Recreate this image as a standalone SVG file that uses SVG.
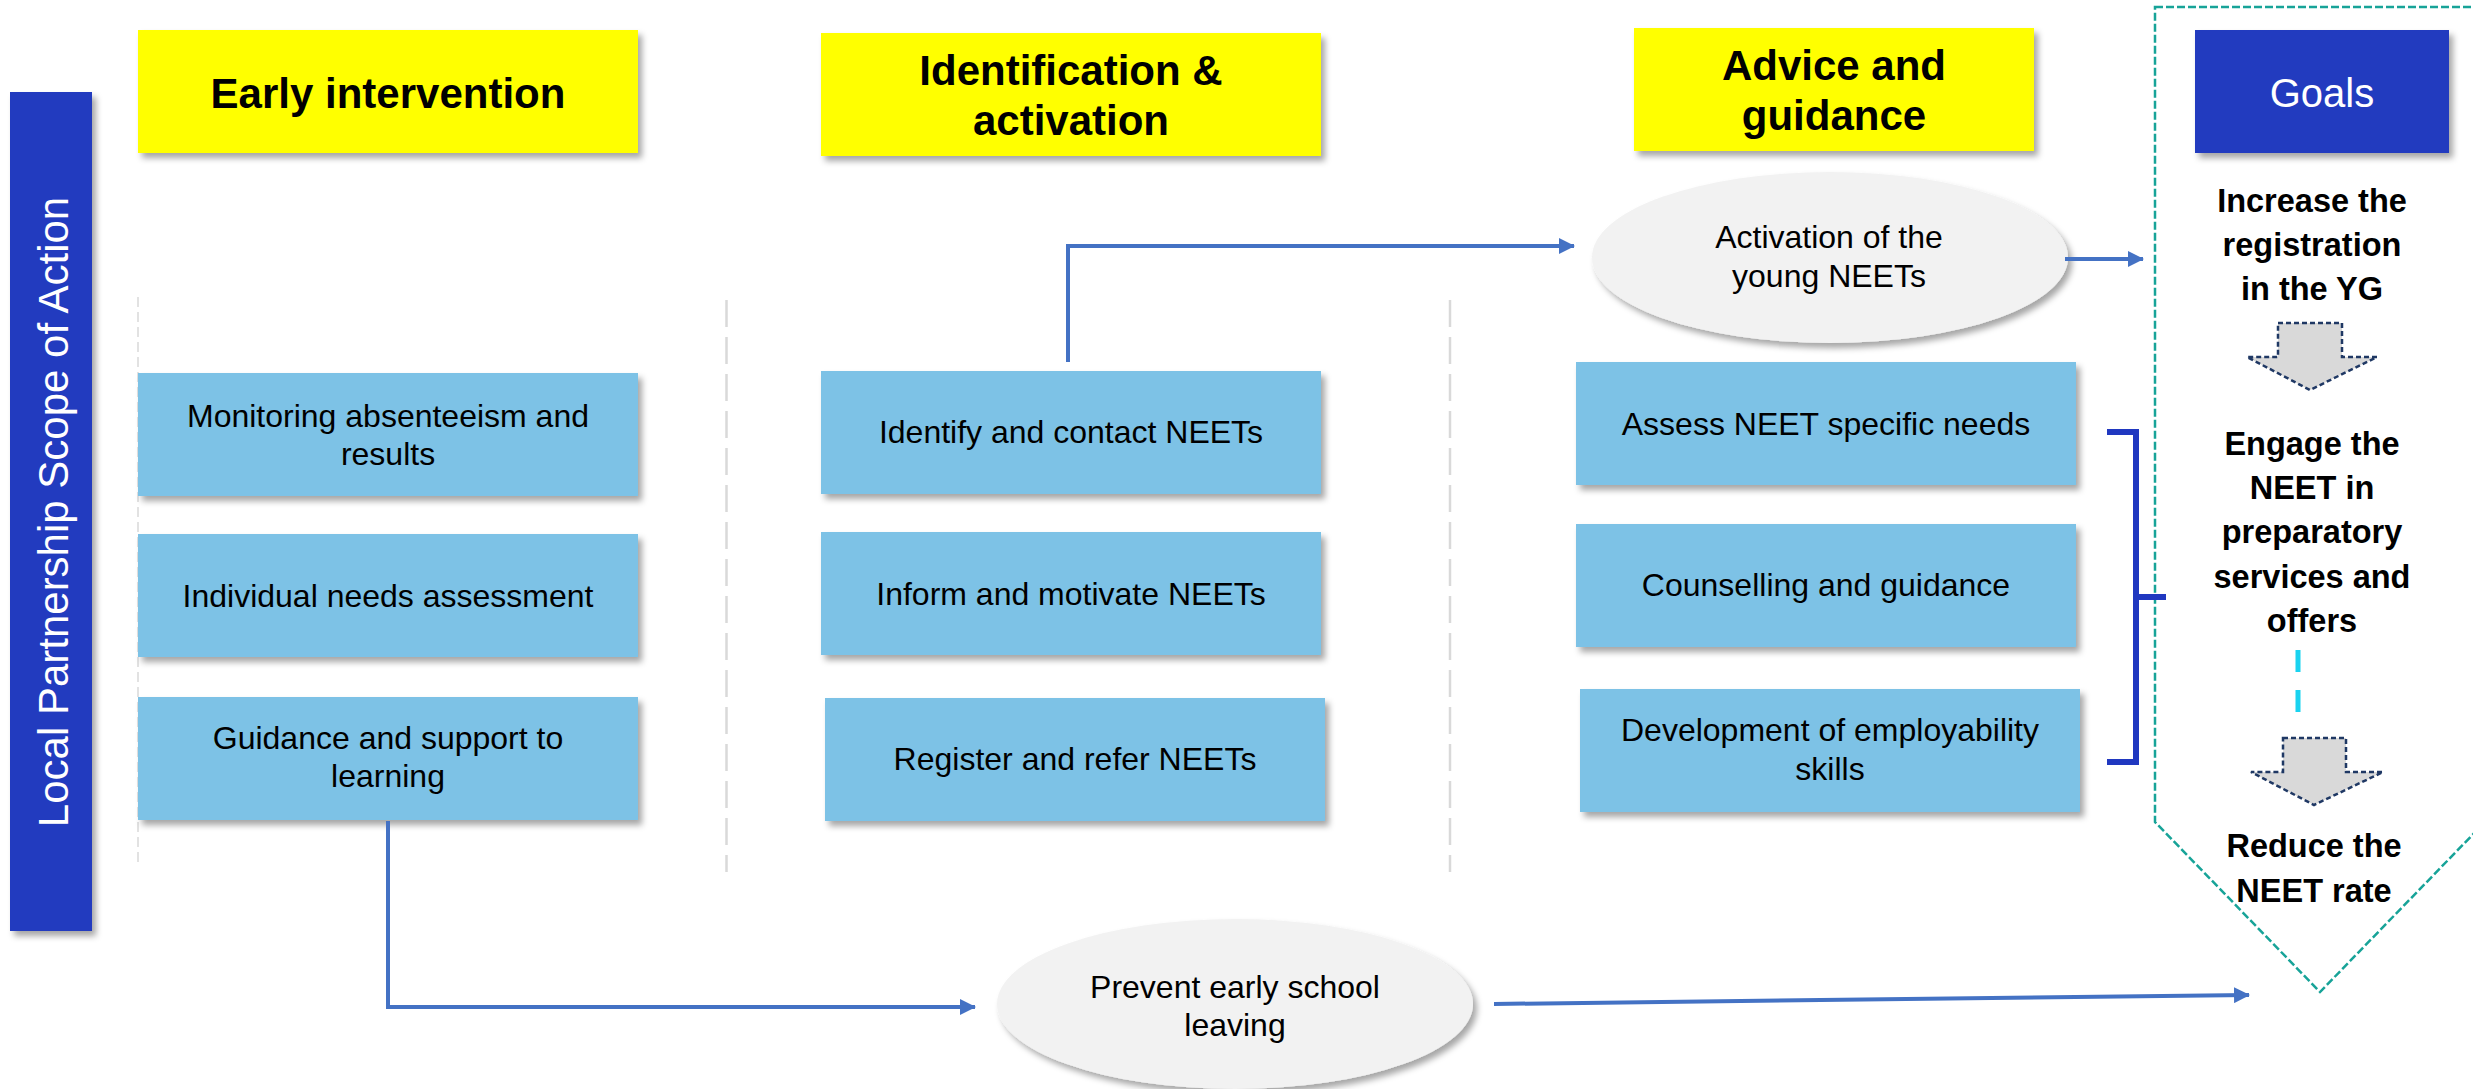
<svg xmlns="http://www.w3.org/2000/svg" width="2473" height="1089" viewBox="0 0 2473 1089">
<style>
  .hdr { fill: #FFFF00; filter: url(#sh); }
  .hdrt { font-family: "Liberation Sans", Arial, sans-serif; font-weight: bold; font-size: 42px; fill: #000; text-anchor: middle; }
  .box { fill: #7DC2E6; filter: url(#sh); }
  .boxt { font-family: "Liberation Sans", Arial, sans-serif; font-size: 32px; fill: #000; text-anchor: middle; }
  .ell { fill: #F2F2F2; filter: url(#sh); }
  .goal { font-family: "Liberation Sans", Arial, sans-serif; font-weight: bold; font-size: 32.5px; fill: #000; text-anchor: middle; }
  .conn { fill: none; stroke: #4472C4; stroke-width: 4; }
  .sep { fill: none; stroke: #D9D9D9; stroke-width: 2.5; stroke-dasharray: 27 10; }
  .darrow { fill: #D9D9D9; stroke: #1F3864; stroke-width: 2.5; stroke-dasharray: 5 3; }
</style>
<defs>
  <filter id="sh" x="-10%" y="-10%" width="130%" height="140%">
    <feDropShadow dx="4" dy="5" stdDeviation="3" flood-color="#000" flood-opacity="0.35"/>
  </filter>
  <marker id="arr" markerUnits="userSpaceOnUse" markerWidth="16" markerHeight="16" refX="15" refY="8" orient="auto">
    <path d="M0,0 L16,8 L0,16 z" fill="#4472C4"/>
  </marker>
</defs>
<rect width="2473" height="1089" fill="#FFFFFF"/>

<g id="separators">
  <line x1="138" y1="297" x2="138" y2="865" fill="none" stroke="#D9D9D9" stroke-width="1.5" stroke-dasharray="10 5"/>
  <line class="sep" x1="726.5" y1="300" x2="726.5" y2="872"/>
  <line class="sep" x1="1450" y1="300" x2="1450" y2="872"/>
</g>

<g id="scope-bar">
  <rect x="10" y="92" width="82" height="839" fill="#203ABF" filter="url(#sh)"/>
  <text transform="translate(68,512) rotate(-90)" font-family="Liberation Sans, Arial, sans-serif" font-size="42" fill="#FFFFFF" text-anchor="middle">Local Partnership Scope of Action</text>
</g>

<g id="hdr-early">
  <rect class="hdr" x="138" y="30" width="500" height="123"/>
  <text class="hdrt" x="388" y="108">Early intervention</text>
</g>
<g id="hdr-ident">
  <rect class="hdr" x="821" y="33" width="500" height="123"/>
  <text class="hdrt" x="1071" y="85">Identification &amp;</text>
  <text class="hdrt" x="1071" y="135">activation</text>
</g>
<g id="hdr-advice">
  <rect class="hdr" x="1634" y="28" width="400" height="123"/>
  <text class="hdrt" x="1834" y="80">Advice and</text>
  <text class="hdrt" x="1834" y="130">guidance</text>
</g>

<g id="goals-frame">
  <polygon points="2155,7 2485,7 2485,822 2320,992 2155,822" fill="none" stroke="#17A398" stroke-width="2.5" stroke-dasharray="8 3"/>
</g>
<g id="goals-header">
  <rect x="2195" y="30" width="254" height="123" fill="#203ABF" filter="url(#sh)"/>
  <text x="2322" y="107" font-family="Liberation Sans, Arial, sans-serif" font-size="40" fill="#FFFFFF" text-anchor="middle">Goals</text>
</g>

<g id="box-monitor">
  <rect class="box" x="138" y="373" width="500" height="123"/>
  <text class="boxt" x="388" y="427">Monitoring absenteeism and</text>
  <text class="boxt" x="388" y="465">results</text>
</g>
<g id="box-individual">
  <rect class="box" x="138" y="534" width="500" height="123"/>
  <text class="boxt" x="388" y="607">Individual needs assessment</text>
</g>
<g id="box-guidance">
  <rect class="box" x="138" y="697" width="500" height="123"/>
  <text class="boxt" x="388" y="749">Guidance and support to</text>
  <text class="boxt" x="388" y="787">learning</text>
</g>

<g id="box-identify">
  <rect class="box" x="821" y="371" width="500" height="123"/>
  <text class="boxt" x="1071" y="443">Identify and contact NEETs</text>
</g>
<g id="box-inform">
  <rect class="box" x="821" y="532" width="500" height="123"/>
  <text class="boxt" x="1071" y="605">Inform and motivate NEETs</text>
</g>
<g id="box-register">
  <rect class="box" x="825" y="698" width="500" height="123"/>
  <text class="boxt" x="1075" y="770">Register and refer NEETs</text>
</g>

<g id="box-assess">
  <rect class="box" x="1576" y="362" width="500" height="123"/>
  <text class="boxt" x="1826" y="435">Assess NEET specific needs</text>
</g>
<g id="box-counselling">
  <rect class="box" x="1576" y="524" width="500" height="123"/>
  <text class="boxt" x="1826" y="596">Counselling and guidance</text>
</g>
<g id="box-development">
  <rect class="box" x="1580" y="689" width="500" height="123"/>
  <text class="boxt" x="1830" y="741">Development of employability</text>
  <text class="boxt" x="1830" y="780">skills</text>
</g>

<g id="ell-activation">
  <ellipse class="ell" cx="1830" cy="257.5" rx="238" ry="85.5"/>
  <text class="boxt" x="1829" y="248">Activation of the</text>
  <text class="boxt" x="1829" y="287">young NEETs</text>
</g>
<g id="ell-prevent">
  <ellipse class="ell" cx="1235" cy="1004" rx="238" ry="85"/>
  <text class="boxt" x="1235" y="998">Prevent early school</text>
  <text class="boxt" x="1235" y="1036">leaving</text>
</g>

<g id="goal-increase">
  <text class="goal" x="2312" y="212">Increase the</text>
  <text class="goal" x="2312" y="256">registration</text>
  <text class="goal" x="2312" y="300">in the YG</text>
</g>
<g id="goal-engage">
  <text class="goal" x="2312" y="455">Engage the</text>
  <text class="goal" x="2312" y="499">NEET in</text>
  <text class="goal" x="2312" y="543">preparatory</text>
  <text class="goal" x="2312" y="588">services and</text>
  <text class="goal" x="2312" y="632">offers</text>
</g>
<g id="goal-reduce">
  <text class="goal" x="2314" y="857">Reduce the</text>
  <text class="goal" x="2314" y="902">NEET rate</text>
</g>

<g id="connectors">
  <path class="conn" d="M1068,362 V246 H1574" marker-end="url(#arr)"/>
  <path class="conn" d="M2065,259 H2143" marker-end="url(#arr)"/>
  <path class="conn" d="M388,821 V1007 H975" marker-end="url(#arr)"/>
  <path class="conn" d="M1494,1004 L2249,995" marker-end="url(#arr)"/>
  <path d="M2107,432 H2136 V762 H2107 M2136,597 H2166" fill="none" stroke="#2038C0" stroke-width="6"/>
  <line x1="2298" y1="650" x2="2298" y2="714" stroke="#19D3F0" stroke-width="5" stroke-dasharray="22 18"/>
  <polygon class="darrow" points="2278,323 2342,323 2342,357 2377,357 2310,390 2247,357 2278,357"/>
  <polygon class="darrow" points="2283,738 2346,738 2346,772 2383,772 2314,805 2251,772 2283,772"/>
</g>
</svg>
